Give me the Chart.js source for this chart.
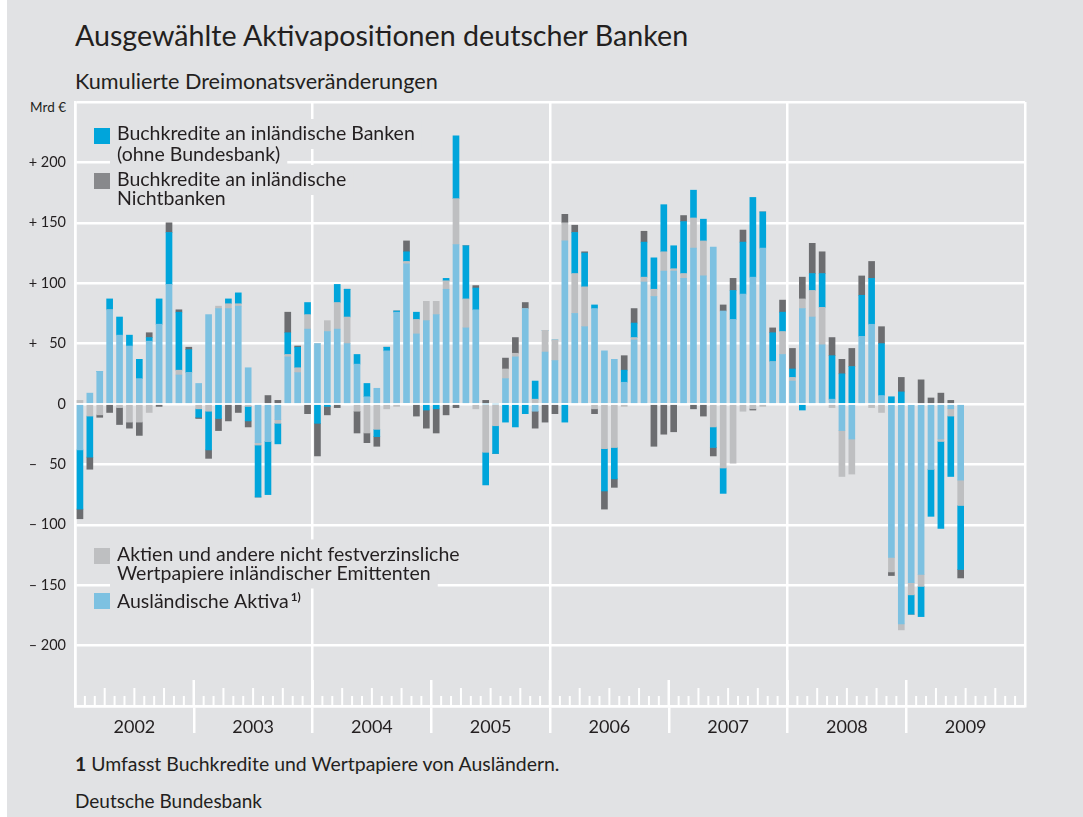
<!DOCTYPE html>
<html><head><meta charset="utf-8">
<script src="https://cdn.jsdelivr.net/npm/chart.js@4.4.0/dist/chart.umd.min.js"></script>
<style>
html,body{margin:0;padding:0;background:#fff;}
#wrap{position:relative;width:1083px;height:817px;background:#fff;overflow:hidden;}
#bg{position:absolute;left:7px;top:0;right:0;bottom:0;background:#e1e2e4;}
#c{position:absolute;left:0;top:0;}
.t{position:absolute;left:75px;font-family:Lato,'Open Sans',sans-serif;color:#231f20;white-space:nowrap;}
</style></head>
<body><div id="wrap"><div id="bg"></div>
<div class="t" id="title">Ausgewählte Aktivapositionen deutscher Banken</div>
<div class="t" id="subtitle">Kumulierte Dreimonatsveränderungen</div>
<div class="t" id="unit">Mrd €</div>
<div class="t" id="note"><b>1</b> Umfasst Buchkredite und Wertpapiere von Ausländern.</div>
<div class="t" id="source">Deutsche Bundesbank</div>
<canvas id="c" width="1083" height="817"></canvas>
</div>
<script>
// ---------- data ----------
const YEARS = ['2002','2003','2004','2005','2006','2007','2008','2009'];
const MONTH_NAMES = ['Jan','Feb','Mär','Apr','Mai','Jun','Jul','Aug','Sep','Okt','Nov','Dez'];
const MONTHS = YEARS.flatMap(y => MONTH_NAMES.map(m => m + ' ' + y));

const Y_TICKS = [-200,-150,-100,-50,0,50,100,150,200];
const Y_TICK_LABELS = ['\u2013 200','\u2013 150','\u2013 100','\u2013 \u200750','0','+ \u200750','+ 100','+ 150','+ 200'];

// Ausländische Aktiva (1)
const AUSLAND = [
 -38,9,27,78,57,48,21,52,66,99,24,26,
 17,74,79,79,81,30,-32,-31,-13,39,26,62,
 50,60,62,50,33,6,13,44,76,116,58,69,
 74,95,132,63,78,0,0,21,39,79,-6,43,
 36,135,75,64,79,44,37,18,53,101,89,110,
 110,104,129,106,130,77,70,91,105,129,35,41,
 19,79,72,49,4,-22,-29,56,66,7,-127,-182,
 -148,-141,-54,-29,-4,-63];
// Aktien und andere nicht festverzinsliche Wertpapiere inländischer Emittenten
const AKTIEN = [
 3,-10,-9,0,-3,-15,-15,-7,0,0,4,0,
 -4,-6,2,4,2,-2,-2,0,-3,2,4,12,
 0,9,22,22,-6,-24,-21,-4,-2,2,12,16,
 11,7,38,24,-4,-40,-18,8,3,0,4,18,
 17,15,33,33,-4,-37,-36,-2,2,4,6,16,
 2,4,25,29,-19,-53,-49,-6,-4,-2,0,19,
 3,8,22,31,-3,-38,-29,0,-3,-7,-12,-5,
 -10,-10,0,-2,-6,-21];
// Buchkredite an inländische Banken (ohne Bundesbank)
const BANKEN = [
 -49,-34,0,9,15,9,16,3,21,43,48,19,
 -7,-32,-12,4,9,-12,-43,-44,-17,18,17,10,
 -16,-2,15,23,8,11,-6,3,1,8,6,-5,
 -4,2,52,44,18,-27,-23,-15,-19,-8,15,0,
 0,-15,34,28,3,-35,-26,10,12,29,26,39,
 19,43,23,18,-17,-21,24,43,66,30,24,16,
 7,-5,14,28,36,25,31,34,38,43,6,10,
 -16,-25,-39,-72,-50,-53];
// Buchkredite an inländische Nichtbanken
const NICHTBANKEN = [
 -8,-10,-2,-7,-14,-5,-11,4,-2,8,2,2,
 -1,-7,-10,-14,-7,-5,0,7,3,17,1,-8,
 -27,-7,-3,0,-18,-8,-8,0,0,9,-10,-15,
 -20,-9,-3,0,2,3,0,9,13,5,-14,-15,
 -8,7,6,1,-4,-15,-7,12,12,9,-35,-25,
 -23,5,-4,-10,-7,5,10,10,-1,0,4,10,
 17,18,25,18,15,12,15,16,14,14,-3,12,
 0,20,5,9,3,-7];

// ---------- styles ----------
const BG = '#e1e2e4';
const TEXT = '#231f20';
const FONT = 'Lato';
const COL_AUSL = '#7dc1e1', COL_AKT = '#bebfc1', COL_BANK = '#00a5db', COL_NICHT = '#6c6d70';

// ---------- HTML text placement ----------
const mctx = document.createElement('canvas').getContext('2d');
function place(id, weight, targetW, baseline, fixedFs, rightEdge) {
  const el = document.getElementById(id);
  const txt = el.textContent;
  mctx.font = `${weight} 100px ${FONT}`;
  const fs = fixedFs || 100 * targetW / mctx.measureText(txt).width;
  mctx.font = `${weight} ${fs}px ${FONT}`;
  const m = mctx.measureText(txt);
  const A = m.fontBoundingBoxAscent, D = m.fontBoundingBoxDescent;
  el.style.fontSize = fs + 'px';
  el.style.lineHeight = fs + 'px';
  el.style.top = (baseline - ((fs - (A + D)) / 2 + A)) + 'px';
  if (rightEdge) el.style.left = (rightEdge - m.width) + 'px';
}
place('title', 400, 615, 46);
place('subtitle', 400, 363, 90);
place('unit', 400, 0, 113, 13.5, 66);
place('note', 400, 486, 771);
place('source', 400, 187, 808);

// ---------- legend ----------
const LEGEND_POS = [ // dataset index, box top, baselines
  {ds: 2, boxTop: 128, base: [140, 160.5]},
  {ds: 3, boxTop: 173, base: [186, 205]},
  {ds: 1, boxTop: 548, base: [560.5, 579.5]},
  {ds: 0, boxTop: 593, base: [608]}
];
mctx.font = `400 100px ${FONT}`;
const LEG_FS = 100 * 298 / mctx.measureText('Buchkredite an inländische Banken').width;

const legendPlugin = {
  id: 'customLegend',
  afterDraw(chart) {
    const ctx = chart.ctx, ca = chart.chartArea;
    const boxX = ca.left + 19, textX = ca.left + 42;
    ctx.save();
    ctx.font = `400 ${LEG_FS}px ${FONT}`;
    ctx.textBaseline = 'alphabetic';
    ctx.textAlign = 'left';
    // pass 1: backgrounds behind every text line
    ctx.fillStyle = BG;
    LEGEND_POS.forEach(p => {
      const ds = chart.data.datasets[p.ds];
      ds.legendLines.forEach((line, i) => {
        let w = ctx.measureText(line).width + (ds.footnote ? 12 : 0);
        ctx.fillRect(textX - 7, p.base[i] - 21, w + 14, 30);
      });
    });
    // pass 2: boxes and text
    LEGEND_POS.forEach(p => {
      const ds = chart.data.datasets[p.ds];
      ctx.fillStyle = ds.legendColor;
      ctx.fillRect(boxX, p.boxTop, 16, 16);
      ctx.fillStyle = TEXT;
      ds.legendLines.forEach((line, i) => {
        ctx.fillText(line, textX, p.base[i]);
        if (ds.footnote && i === ds.legendLines.length - 1) {
          const w = ctx.measureText(line).width;
          ctx.save();
          ctx.font = `700 ${LEG_FS * 0.6}px ${FONT}`;
          ctx.fillText(ds.footnote, textX + w + 2, p.base[i] - 7);
          ctx.restore();
        }
      });
    });
    ctx.restore();
  }
};

// ---------- month ticks on the axis ----------
const monthTicks = {
  id: 'monthTicks',
  afterDraw(chart) {
    const x = chart.scales.x, ca = chart.chartArea, ctx = chart.ctx;
    ctx.save();
    ctx.strokeStyle = '#ffffff';
    for (let k = 1; k < MONTHS.length; k++) {
      const px = x.getPixelForValue(k - 0.5);
      const yearB = k % 12 === 0, q = k % 3 === 0;
      const h = yearB ? 26 : (q ? 18 : 10);
      ctx.lineWidth = yearB ? 2.5 : 2;
      ctx.beginPath();
      ctx.moveTo(px, ca.bottom);
      ctx.lineTo(px, ca.bottom - h);
      ctx.stroke();
    }
    ctx.restore();
  }
};

Chart.defaults.font.family = FONT;
Chart.defaults.color = TEXT;

new Chart(document.getElementById('c'), {
  type: 'bar',
  data: {
    labels: MONTHS,
    datasets: [
      {label: 'Ausländische Aktiva', legendLines: ['Ausländische Aktiva'], footnote: '1)', data: AUSLAND, backgroundColor: COL_AUSL, legendColor: COL_AUSL},
      {label: 'Aktien und andere nicht festverzinsliche Wertpapiere inländischer Emittenten', legendLines: ['Aktien und andere nicht festverzinsliche', 'Wertpapiere inländischer Emittenten'], data: AKTIEN, backgroundColor: COL_AKT, legendColor: COL_AKT},
      {label: 'Buchkredite an inländische Banken (ohne Bundesbank)', legendLines: ['Buchkredite an inländische Banken', '(ohne Bundesbank)'], data: BANKEN, backgroundColor: COL_BANK, legendColor: COL_BANK},
      {label: 'Buchkredite an inländische Nichtbanken', legendLines: ['Buchkredite an inländische', 'Nichtbanken'], data: NICHTBANKEN, backgroundColor: COL_NICHT, legendColor: '#88898c'}
    ].map(d => Object.assign(d, {barThickness: 6, borderWidth: 0, stack: 's'}))
  },
  options: {
    responsive: false,
    animation: false,
    devicePixelRatio: 1,
    layout: {padding: {left: 0, right: 58, top: 102, bottom: 71}},
    plugins: {legend: {display: false}, tooltip: {enabled: false}, title: {display: false}},
    scales: {
      x: {stacked: true, display: false, offset: true, grid: {offset: true}},
      xYear: {
        type: 'category', labels: YEARS, position: 'bottom', offset: true,
        afterFit: s => { s.height = 40; },
        grid: {
          offset: true, drawOnChartArea: true, tickLength: 27, lineWidth: 2.5,
          color: c => { const i = c.index === undefined ? 8 : c.index; return [0,2,4,6,8].includes(i) ? '#ffffff' : 'rgba(0,0,0,0)'; },
          tickColor: c => { const i = c.index === undefined ? 8 : c.index; return (i > 0 && i < 8) ? '#ffffff' : 'rgba(0,0,0,0)'; }
        },
        border: {display: true, color: '#ffffff', width: 2.5},
        ticks: {padding: -17, font: {size: 18}, color: TEXT, maxRotation: 0, autoSkip: false}
      },
      y: {
        stacked: true, min: -250, max: 250, z: 1,
        afterFit: s => { s.width = 75; },
        afterBuildTicks: s => { s.ticks = [-250].concat(Y_TICKS, [250]).map(v => ({value: v})); },
        ticks: {padding: 9, font: {size: 14.5}, color: TEXT,
          callback: v => { const i = Y_TICKS.indexOf(v); return i >= 0 ? Y_TICK_LABELS[i] : ''; }},
        grid: {color: '#ffffff', lineWidth: 2.5, drawTicks: false},
        border: {display: true, color: '#ffffff', width: 2.5}
      }
    }
  },
  plugins: [monthTicks, legendPlugin]
});
</script>
</body></html>
